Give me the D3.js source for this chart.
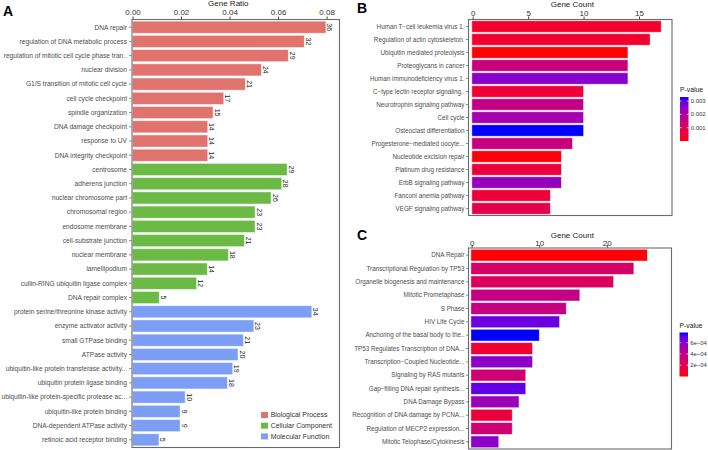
<!DOCTYPE html>
<html>
<head>
<meta charset="utf-8">
<script src="https://cdn.jsdelivr.net/npm/d3@7"></script>
<style>
    body { margin: 0; background: #fff; }
    svg { display: block; font-family: "Liberation Sans", Arial, sans-serif; }
</style>
</head>
<body>
<svg id="svg" width="708" height="450"></svg>
<script>
// ---------------- panel A: GO terms, gene ratio ----------------
let bpTerms = [
    "DNA repair", "regulation of DNA metabolic process",
    "regulation of mitotic cell cycle phase tran..", "nuclear division",
    "G1/S transition of mitotic cell cycle", "cell cycle checkpoint",
    "spindle organization", "DNA damage checkpoint", "response to UV",
    "DNA integrity checkpoint"
];
let bpCount = [36, 32, 29, 24, 21, 17, 15, 14, 14, 14];
let bpRatio = [0.0797, 0.0708, 0.0642, 0.0531, 0.0465, 0.0376, 0.0332, 0.0310, 0.0310, 0.0310];

let ccTerms = [
    "centrosome", "adherens junction", "nuclear chromosome part",
    "chromosomal region", "endosome membrane", "cell-substrate junction",
    "nuclear membrane", "lamellipodium", "cullin-RING ubiquitin ligase complex",
    "DNA repair complex"
];
let ccCount = [29, 28, 26, 23, 23, 21, 18, 14, 12, 5];
let ccRatio = [0.0637, 0.0615, 0.0571, 0.0505, 0.0505, 0.0461, 0.0395, 0.0308, 0.0264, 0.0110];

let mfTerms = [
    "protein serine/threonine kinase activity", "enzyme activator activity",
    "small GTPase binding", "ATPase activity",
    "ubiquitin-like protein transferase activity...", "ubiquitin protein ligase binding",
    "ubiquitin-like protein-specific protease ac...", "ubiquitin-like protein binding",
    "DNA-dependent ATPase activity", "retinoic acid receptor binding"
];
let mfCount = [34, 23, 21, 20, 19, 18, 10, 9, 9, 5];
let mfRatio = [0.0739, 0.0500, 0.0457, 0.0435, 0.0413, 0.0391, 0.0217, 0.0196, 0.0196, 0.0109];

let ontologies = ["Biological Process", "Cellular Component", "Molecular Function"];
let ratioTicks = [0, 0.02, 0.04, 0.06, 0.08];

// ---------------- panel B: KEGG ----------------
let keggTerms = [
    "Human T\u2212cell leukemia virus 1.", "Regulation of actin cytoskeleton.",
    "Ubiquitin mediated proteolysis", "Proteoglycans in cancer",
    "Human immunodeficiency virus 1.", "C\u2212type lectin receptor signaling..",
    "Neurotrophin signaling pathway", "Cell cycle", "Osteoclast differentiation",
    "Progesterone\u2212mediated oocyte...", "Nucleotide excision repair",
    "Platinum drug resistance", "ErbB signaling pathway",
    "Fanconi anemia pathway", "VEGF signaling pathway"
];
let keggCount = [17, 16, 14, 14, 14, 10, 10, 10, 10, 9, 8, 8, 8, 7, 7];
let keggP = [0.00035, 0.0004, 0.00003, 0.0015, 0.0026, 0.0005, 0.0016, 0.0022,
    0.0033, 0.0015, 0.00005, 0.0006, 0.0024, 0.0005, 0.0008];
let keggPTicks = [0.001, 0.002, 0.003];

// ---------------- panel C: Reactome ----------------
let reactTerms = [
    "DNA Repair", "Transcriptional Regulation by TP53",
    "Organelle biogenesis and maintenance", "Mitotic Prometaphase", "S Phase",
    "HIV Life Cycle", "Anchoring of the basal body to the..",
    "TP53 Regulates Transcription of DNA...", "Transcription\u2212Coupled Nucleotide...",
    "Signaling by RAS mutants", "Gap\u2212filling DNA repair synthesis...",
    "DNA Damage Bypass", "Recognition of DNA damage by PCNA...",
    "Regulation of MECP2 expression...", "Mitotic Telophase/Cytokinesis"
];
let reactCount = [26, 24, 21, 16, 14, 13, 10, 9, 9, 8, 8, 7, 6, 6, 4];
let reactP = [0.00001, 0.00028, 0.00024, 0.00038, 0.00036, 0.00068, 0.00078, 0.0001,
    0.0006, 0.00032, 0.0007, 0.00055, 0.00014, 0.00032, 0.0006];
let reactPTicks = [0.0002, 0.0004, 0.0006];

let svg = d3.select('#svg');
let ontoColors = ['#E0736E', '#6BBA45', '#7C9EF5'];
let textGrey = '#4d4d4d';
let boxGrey = '#6b6b6b';

drawPanelA();
drawCountPanel({
    terms: keggTerms, counts: keggCount, pvals: keggP,
    xDomain: [-0.33, 17.93], xTicks: [0, 5, 10, 15],
    box: {left: 469, right: 671.5, top: 20, bottom: 215},
    titleY: 6.5, tickPad: 1,
    pDomain: [0, 0.0033], pTicks: keggPTicks, pFormat: d3.format('.3f'),
    legend: {x: 680, top: 97, bottom: 141, titleY: 90}
});
drawCountPanel({
    terms: reactTerms, counts: reactCount, pvals: reactP,
    xDomain: [-0.4, 29.5], xTicks: [0, 10, 20],
    box: {left: 469, right: 671, top: 248.5, bottom: 448.5},
    titleY: 237.5, tickPad: -0.5,
    pDomain: [0, 0.00078], pTicks: reactPTicks,
    pFormat: function(v) { return (v * 1e4).toFixed(0) + 'e\u221204'; },
    legend: {x: 679.5, top: 332.5, bottom: 376.5, titleY: 325.5}
});

// panel letters
svg.append('text').attr('x', 3).attr('y', 16).text('A')
    .attr('font-size', 14).attr('font-weight', 'bold');
svg.append('text').attr('x', 357).attr('y', 13).text('B')
    .attr('font-size', 14).attr('font-weight', 'bold');
svg.append('text').attr('x', 357).attr('y', 240).text('C')
    .attr('font-size', 14).attr('font-weight', 'bold');


function drawPanelA() {
    // stack the three ontologies into one list of rows
    let rows = [];
    let groups = [[bpTerms, bpCount, bpRatio], [ccTerms, ccCount, ccRatio], [mfTerms, mfCount, mfRatio]];
    groups.forEach(function(g, k) {
        for (let i = 0; i < g[0].length; i++) {
            rows.push({term: g[0][i], count: g[1][i], ratio: g[2][i], onto: k});
        }
    });

    let box = {left: 132.5, right: 339, top: 20, bottom: 447};
    let x = d3.scaleLinear().domain([0, 0.0851]).range([box.left, box.right]);
    let y = d3.scaleBand().domain(rows.map((d, i) => i))
        .range([box.top, box.bottom]).paddingInner(0.15).paddingOuter(0.08);

    let g = svg.append('g');

    g.selectAll('.barA')
        .data(rows)
        .join('rect')
        .classed('barA', true)
        .attr('x', x(0))
        .attr('y', (d, i) => y(i))
        .attr('width', d => x(d.ratio) - x(0))
        .attr('height', y.bandwidth())
        .attr('fill', d => ontoColors[d.onto])
        .attr('stroke', 'rgba(255,255,255,0.55)')
        .attr('stroke-width', 0.8);

    // count labels, rotated
    g.selectAll('.cntA')
        .data(rows)
        .join('text')
        .classed('cntA', true)
        .attr('transform', (d, i) => `translate(${x(d.ratio) + 1.5},${y(i) + y.bandwidth() / 2}) rotate(90)`)
        .attr('text-anchor', 'middle')
        .attr('font-size', 7)
        .attr('fill', '#222')
        .text(d => d.count);

    // frame
    g.append('rect')
        .attr('x', box.left - 0.5).attr('y', box.top - 0.5)
        .attr('width', box.right - box.left + 1).attr('height', box.bottom - box.top + 1)
        .attr('fill', 'none').attr('stroke', boxGrey).attr('stroke-width', 1.1);

    // y labels
    g.selectAll('.labA')
        .data(rows)
        .join('text')
        .classed('labA', true)
        .attr('x', box.left - 5.5)
        .attr('y', (d, i) => y(i) + y.bandwidth() / 2)
        .attr('dy', '0.35em')
        .attr('text-anchor', 'end')
        .attr('font-size', 6.65)
        .attr('fill', textGrey)
        .text(d => d.term);
    g.selectAll('.tickA')
        .data(rows)
        .join('line')
        .classed('tickA', true)
        .attr('x1', box.left - 3.5).attr('x2', box.left - 1)
        .attr('y1', (d, i) => y(i) + y.bandwidth() / 2)
        .attr('y2', (d, i) => y(i) + y.bandwidth() / 2)
        .attr('stroke', '#444').attr('stroke-width', 0.6);

    // top axis
    let axis = g.append('g')
        .attr('transform', `translate(0,${box.top - 1})`)
        .call(d3.axisTop(x).tickValues(ratioTicks).tickFormat(d3.format('.2f')).tickSize(2.5).tickPadding(2));
    axis.attr('font-family', null);
    axis.select('.domain').remove();
    axis.selectAll('text').attr('font-size', 8).attr('fill', '#333');
    axis.selectAll('line').attr('stroke', '#444');

    g.append('text')
        .attr('x', 228.3).attr('y', 6.2)
        .attr('text-anchor', 'middle')
        .attr('font-size', 8)
        .attr('fill', '#222')
        .text('Gene Ratio');

    // legend
    let leg = g.append('g');
    ontologies.forEach(function(name, k) {
        leg.append('rect')
            .attr('x', 261).attr('y', 412 + k * 10.7)
            .attr('width', 7).attr('height', 6)
            .attr('fill', ontoColors[k]);
        leg.append('text')
            .attr('x', 270.7).attr('y', 415 + k * 10.7)
            .attr('dy', '0.35em')
            .attr('font-size', 6.95)
            .attr('fill', '#333')
            .text(name);
    });
}

function drawCountPanel(p) {
    let box = p.box;
    let x = d3.scaleLinear().domain(p.xDomain).range([box.left, box.right]);
    let y = d3.scaleBand().domain(p.terms)
        .range([box.top, box.bottom]).paddingInner(0.12).paddingOuter(0.06);
    // ggplot style low = red, high = blue
    let color = d3.scaleLinear().domain(p.pDomain).range(['red', 'blue'])
        .interpolate(d3.interpolateLab).clamp(true);

    let g = svg.append('g');

    g.selectAll('rect.bar')
        .data(p.terms)
        .join('rect')
        .classed('bar', true)
        .attr('x', x(0) - 0.8)
        .attr('y', d => y(d))
        .attr('width', (d, i) => x(p.counts[i]) - x(0) + 0.8)
        .attr('height', y.bandwidth())
        .attr('fill', (d, i) => color(p.pvals[i]))
        .attr('stroke', 'rgba(255,255,255,0.55)')
        .attr('stroke-width', 0.8);

    g.append('rect')
        .attr('x', box.left - 0.5).attr('y', box.top - 0.5)
        .attr('width', box.right - box.left + 1).attr('height', box.bottom - box.top + 1)
        .attr('fill', 'none').attr('stroke', boxGrey).attr('stroke-width', 1.1);

    g.selectAll('text.lab')
        .data(p.terms)
        .join('text')
        .classed('lab', true)
        .attr('x', box.left - 4.5)
        .attr('y', d => y(d) + y.bandwidth() / 2)
        .attr('dy', '0.35em')
        .attr('text-anchor', 'end')
        .attr('font-size', 6.3)
        .attr('fill', textGrey)
        .text(d => d);
    g.selectAll('line.tk')
        .data(p.terms)
        .join('line')
        .classed('tk', true)
        .attr('x1', box.left - 3).attr('x2', box.left - 1)
        .attr('y1', d => y(d) + y.bandwidth() / 2)
        .attr('y2', d => y(d) + y.bandwidth() / 2)
        .attr('stroke', '#444').attr('stroke-width', 0.6);

    let axis = g.append('g')
        .attr('transform', `translate(0,${box.top - 1})`)
        .call(d3.axisTop(x).tickValues(p.xTicks).tickFormat(d3.format('d')).tickSize(2.5).tickPadding(p.tickPad));
    axis.attr('font-family', null);
    axis.select('.domain').remove();
    axis.selectAll('text').attr('font-size', 8).attr('fill', '#333');
    axis.selectAll('line').attr('stroke', '#444');

    g.append('text')
        .attr('x', 572.3).attr('y', p.titleY)
        .attr('text-anchor', 'middle')
        .attr('font-size', 8)
        .attr('fill', '#222')
        .text('Gene Count');

    // colour bar legend
    let L = p.legend;
    let gradId = 'grad' + Math.round(L.top);
    let grad = svg.append('defs').append('linearGradient')
        .attr('id', gradId)
        .attr('x1', 0).attr('y1', 1).attr('x2', 0).attr('y2', 0);
    d3.range(0, 1.0001, 0.1).forEach(function(t) {
        grad.append('stop')
            .attr('offset', t)
            .attr('stop-color', color(p.pDomain[0] + t * (p.pDomain[1] - p.pDomain[0])));
    });
    let py = d3.scaleLinear().domain(p.pDomain).range([L.bottom, L.top]);

    g.append('text')
        .attr('x', L.x).attr('y', L.titleY)
        .attr('dy', '0.35em')
        .attr('font-size', 6.8)
        .attr('fill', '#222')
        .text('P-value');
    g.append('rect')
        .attr('x', L.x).attr('y', L.top)
        .attr('width', 8.5).attr('height', L.bottom - L.top)
        .attr('fill', `url(#${gradId})`);
    p.pTicks.forEach(function(v) {
        g.append('line')
            .attr('x1', L.x).attr('x2', L.x + 1.8)
            .attr('y1', py(v)).attr('y2', py(v))
            .attr('stroke', '#fff').attr('stroke-width', 0.6);
        g.append('line')
            .attr('x1', L.x + 6.7).attr('x2', L.x + 8.5)
            .attr('y1', py(v)).attr('y2', py(v))
            .attr('stroke', '#fff').attr('stroke-width', 0.6);
        g.append('text')
            .attr('x', L.x + 10.8).attr('y', py(v))
            .attr('dy', '0.35em')
            .attr('font-size', 5.9)
            .attr('fill', '#333')
            .text(p.pFormat(v));
    });
}
</script>
</body>
</html>
